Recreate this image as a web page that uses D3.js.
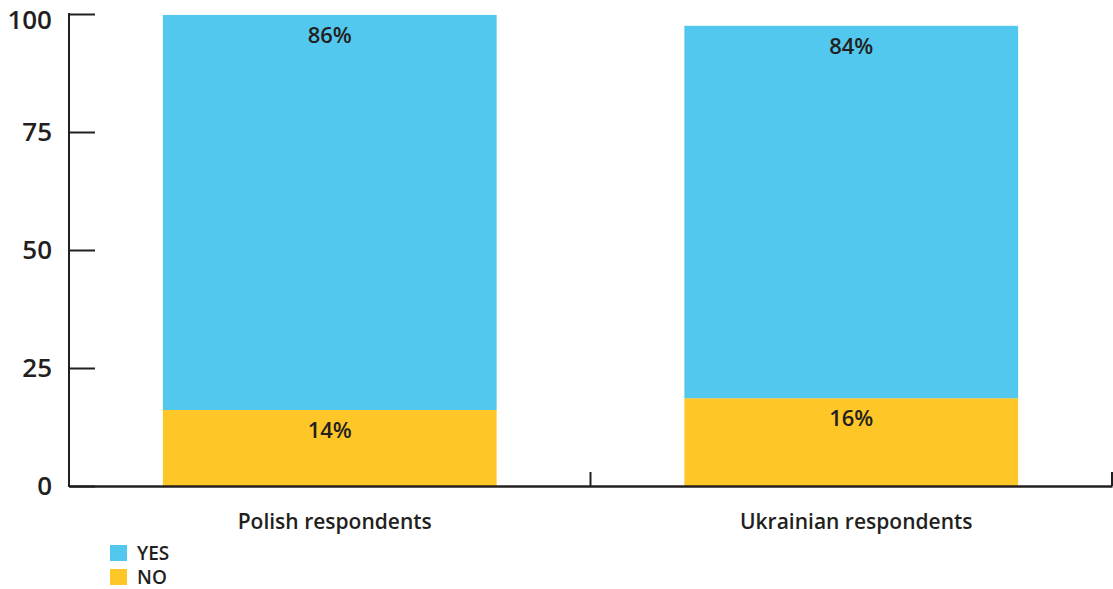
<!DOCTYPE html>
<html><head><meta charset="utf-8">
<script src="https://cdn.jsdelivr.net/npm/d3@7"></script>
<style>body{margin:0;background:#fff;} text{font-family:"Open Sans",sans-serif;fill:#231f20;}</style>
</head><body><svg id="c" width="1113" height="589"></svg>
<script>
const categories = ["Polish respondents", "Ukrainian respondents"];
const series = ["NO", "YES"];
const noValues = [16.1, 18.6];
const yesValues = [83.7, 78.9];
const noLabels = ["14%", "16%"];
const yesLabels = ["86%", "84%"];
const yTicks = [0, 25, 50, 75, 100];
const legendItems = ["YES", "NO"];
const colors = {YES: "#52C8EE", NO: "#FEC627"};

const svg = d3.select("#c");
const x = d3.scaleBand().domain(categories).range([69, 1112]).padding(0);
const y = d3.scaleLinear().domain([0, 100]).range([486, 14]);
const barW = x.bandwidth() * 0.64;

const rows = categories.map((c, i) => ({c, NO: noValues[i], YES: yesValues[i], nl: noLabels[i], yl: yesLabels[i]}));
const stack = d3.stack().keys(series)(rows);

stack.forEach(layer => {
  svg.append("g").selectAll("rect").data(layer).join("rect")
    .attr("x", d => x(d.data.c) + x.bandwidth()/2 - barW/2)
    .attr("width", barW)
    .attr("y", d => y(d[1]))
    .attr("height", d => y(d[0]) - y(d[1]))
    .attr("fill", colors[layer.key]);
  svg.append("g").selectAll("text").data(layer).join("text")
    .attr("x", d => x(d.data.c) + x.bandwidth()/2)
    .attr("y", d => y(d[1]) + 20)
    .attr("dy", "0.35em")
    .attr("text-anchor", "middle")
    .attr("font-size", 22).attr("font-weight", 600)
    .text(d => layer.key === "NO" ? d.data.nl : d.data.yl);
});

// y axis
const ya = svg.append("g").attr("transform", "translate(69,0)")
  .call(d3.axisLeft(y).tickValues(yTicks).tickSize(-26).tickPadding(17).tickFormat(d3.format("d")));
ya.select(".domain").remove();
ya.selectAll(".tick line").attr("stroke", "#231f20").attr("stroke-width", 2);
ya.selectAll(".tick text").attr("font-size", 26).attr("font-weight", 600).attr("font-family", "Open Sans").attr("fill", "#231f20")
  .attr("y", d => d === 100 ? 6 : 0);
svg.append("line").attr("x1", 69).attr("x2", 69).attr("y1", y(100)-1).attr("y2", y(0)+1)
  .attr("stroke", "#231f20").attr("stroke-width", 2);

// x axis
const xa = svg.append("g").attr("transform", "translate(0,486)")
  .call(d3.axisBottom(x).tickSize(0).tickPadding(28));
xa.select(".domain").attr("stroke", "#231f20").attr("stroke-width", 2.5);
xa.selectAll(".tick text").attr("font-size", 21).attr("font-weight", 600).attr("font-family", "Open Sans").attr("fill", "#231f20")
  .attr("x", 5);
svg.append("g").selectAll("line").data(categories).join("line")
  .attr("x1", d => x(d) + x.bandwidth()).attr("x2", d => x(d) + x.bandwidth())
  .attr("y1", 486).attr("y2", 472)
  .attr("stroke", "#231f20").attr("stroke-width", 2);

// legend
const lg = svg.append("g").attr("transform", "translate(110,545)");
legendItems.forEach((k, i) => {
  lg.append("rect").attr("x", 0).attr("y", i*24).attr("width", 17).attr("height", 16).attr("fill", colors[k]);
  lg.append("text").attr("x", 27).attr("y", i*24 + 8).attr("dy", "0.35em")
    .attr("font-size", 19).attr("font-weight", 600).text(k);
});
</script></body></html>
